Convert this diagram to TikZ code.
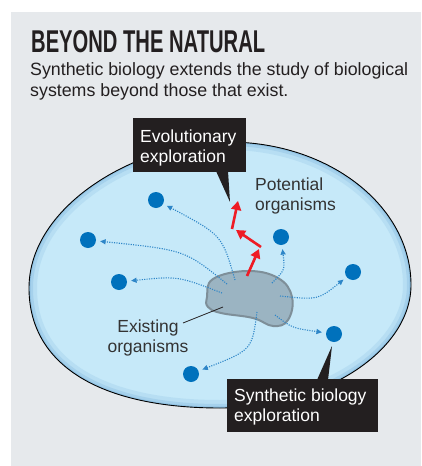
\documentclass[tikz,border=0pt]{standalone}
\usepackage{fontspec}
\usepackage{graphicx}
\setmainfont{Liberation Sans}
\usetikzlibrary{arrows.meta}
\definecolor{panel}{HTML}{E6E9EC}
\definecolor{eggfill}{HTML}{C6E9F9}
\definecolor{eggedge}{HTML}{5E9FD0}
\definecolor{blobfill}{HTML}{9BB4C2}
\definecolor{blobline}{HTML}{7E8F99}
\definecolor{dotblue}{HTML}{0071BC}
\definecolor{dotline}{HTML}{2E86C8}
\definecolor{redarrow}{HTML}{EE1C25}
\definecolor{inkblack}{HTML}{231F20}
\definecolor{textgray}{HTML}{333333}
\begin{document}
\begin{tikzpicture}[x=1pt,y=-1pt,
  organism/.style={circle, fill=dotblue, minimum size=16pt, inner sep=0pt},
  explore/.style={dotline, line width=1.1pt, dash pattern=on 1.1pt off 1.3pt, shorten >=4pt, -{Triangle[length=5.5pt,width=5pt]}},
  evolve/.style={redarrow, line width=2.6pt, -{Triangle[length=9pt,width=10pt]}},
  calloutbox/.style={fill=inkblack, inner sep=0pt},
  callouttext/.style={text=white, font=\fontsize{17.5}{20}\selectfont, align=left, inner sep=0pt},
  bodylabel/.style={text=textgray, font=\fontsize{17.5}{20}\selectfont, inner sep=0pt}]
\useasboundingbox (0,0) rectangle (421,466);
\fill[panel] (11,12) rectangle (421,466);

% title and subtitle
\node[anchor=north west, inner sep=0pt, text=inkblack] (title) at (31,30)
  {\resizebox{234pt}{22pt}{\bfseries BEYOND THE NATURAL}};
\node[anchor=base west, inner sep=0pt, align=left, text=inkblack,
  font=\fontsize{17.8}{20.5}\selectfont] (sub) at (30,96)
  {Synthetic biology extends the study of biological\\systems beyond those that exist.};

% egg-shaped space
\fill[eggfill] (29,288) .. controls (29,205) and (138,142) .. (228,142) .. controls (329,142) and (411,206) .. (411,285) .. controls (411,350) and (325,408) .. (220,408) .. controls (100,408) and (29,365) .. cycle;
\begin{scope}
\clip (29,288) .. controls (29,205) and (138,142) .. (228,142) .. controls (329,142) and (411,206) .. (411,285) .. controls (411,350) and (325,408) .. (220,408) .. controls (100,408) and (29,365) .. cycle;
\draw[eggedge, line width=16pt, opacity=0.14] (29,288) .. controls (29,205) and (138,142) .. (228,142) .. controls (329,142) and (411,206) .. (411,285) .. controls (411,350) and (325,408) .. (220,408) .. controls (100,408) and (29,365) .. cycle;
\draw[eggedge, line width=8pt, opacity=0.2] (29,288) .. controls (29,205) and (138,142) .. (228,142) .. controls (329,142) and (411,206) .. (411,285) .. controls (411,350) and (325,408) .. (220,408) .. controls (100,408) and (29,365) .. cycle;
\draw[eggedge, line width=3pt, opacity=0.28] (29,288) .. controls (29,205) and (138,142) .. (228,142) .. controls (329,142) and (411,206) .. (411,285) .. controls (411,350) and (325,408) .. (220,408) .. controls (100,408) and (29,365) .. cycle;
\end{scope}
\draw[black, line width=0.9pt] (29,288) .. controls (29,205) and (138,142) .. (228,142) .. controls (329,142) and (411,206) .. (411,285) .. controls (411,350) and (325,408) .. (220,408) .. controls (100,408) and (29,365) .. cycle;

% existing organisms blob
\draw[blobline, fill=blobfill, line width=2pt] plot[smooth cycle, tension=0.7] coordinates
  {(207,297) (213,279) (247,271) (278,278) (292,297) (288,320) (273,326) (253,318) (221,313) (208,307)};

% potential organisms
\node[organism] (o1) at (156,200) {};
\node[organism] (o2) at (88,240) {};
\node[organism] (o3) at (119,282) {};
\node[organism] (o4) at (281,237) {};
\node[organism] (o5) at (353,272) {};
\node[organism] (o6) at (334,334) {};
\node[organism] (o7) at (191,374) {};

% starting points inside the blob
\coordinate (s1) at (235,280);
\coordinate (s2) at (227,284);
\coordinate (s3) at (222,293);
\coordinate (s4) at (272,283);
\coordinate (s5) at (280,296);
\coordinate (s6) at (275,315);
\coordinate (s7) at (257,312);

\draw[explore] (s1) .. controls (222,235) .. (o1);
\draw[explore] (s2) .. controls (185,250) .. (o2);
\draw[explore] (s3) .. controls (178,276) .. (o3);
\draw[explore] (s4) .. controls (285,270) .. (o4);
\draw[explore] (s5) .. controls (318,300) .. (o5);
\draw[explore] (s6) .. controls (292,328) .. (o6);
\draw[explore] (s7) .. controls (252,350) .. (o7);

% evolutionary steps
\coordinate (r0) at (247,276);
\coordinate (r1) at (259,249);
\coordinate (r1b) at (261,247);
\coordinate (r2) at (236,230);
\coordinate (r2b) at (232,229);
\coordinate (r3) at (238,201);
\draw[evolve] (r0) -- (r1);
\draw[evolve] (r1b) -- (r2);
\draw[evolve] (r2b) -- (r3);

% labels
\node[bodylabel, anchor=base west, align=left] (potential) at (255,210) {Potential\\organisms};
\node[bodylabel, anchor=base, align=center] (existing) at (148,352) {Existing\\organisms};
\coordinate (exstart) at (183,323);
\coordinate (exend) at (223,307);
\draw[inkblack, line width=0.8pt] (exstart) -- (exend);

% callout: evolutionary exploration
\node[calloutbox, minimum width=113pt, minimum height=54pt, anchor=north west] (evobox) at (133,118) {};
\coordinate (evotip) at (230,202);
\fill[inkblack] (216,171) -- (evotip) -- (228,171) -- cycle;
\node[callouttext, anchor=base west] (evotext) at (140,162) {Evolutionary\\exploration};

% callout: synthetic biology exploration
\node[calloutbox, minimum width=151pt, minimum height=53pt, anchor=north west] (synbox) at (227,379) {};
\coordinate (syntip) at (332,346);
\fill[inkblack] (317,380) -- (syntip) -- (328,380) -- cycle;
\node[callouttext, anchor=base west] (syntext) at (234,421.5) {Synthetic biology\\exploration};
\end{tikzpicture}
\end{document}
